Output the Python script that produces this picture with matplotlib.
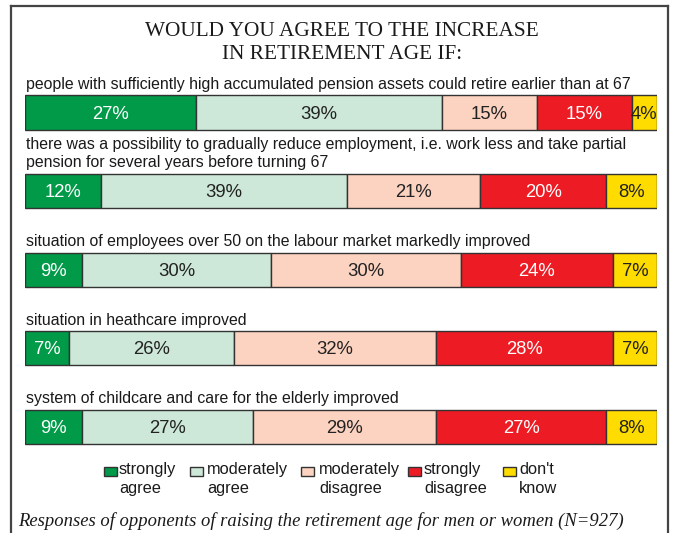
import matplotlib
matplotlib.use("Agg")
import matplotlib.pyplot as plt
from matplotlib.patches import Rectangle
from matplotlib.lines import Line2D
import numpy as np

# Survey questions (one stacked bar per question)
questions = [
    "people with sufficiently high accumulated pension assets could retire earlier than at 67",
    "there was a possibility to gradually reduce employment, i.e. work less and take partial\npension for several years before turning 67",
    "situation of employees over 50 on the labour market markedly improved",
    "situation in heathcare improved",
    "system of childcare and care for the elderly improved",
]

# Response categories (legend labels)
categories = [
    "strongly\nagree",
    "moderately\nagree",
    "moderately\ndisagree",
    "strongly\ndisagree",
    "don't\nknow",
]

# Share of answers, % (one list per category, in question order)
strongly_agree = [27, 12, 9, 7, 9]
moderately_agree = [39, 39, 30, 26, 27]
moderately_disagree = [15, 21, 30, 32, 29]
strongly_disagree = [15, 20, 24, 28, 27]
dont_know = [4, 8, 7, 7, 8]

title = "WOULD YOU AGREE TO THE INCREASE\nIN RETIREMENT AGE IF:"
caption = "Responses of opponents of raising the retirement age for men or women (N=927)"

series = [strongly_agree, moderately_agree, moderately_disagree, strongly_disagree, dont_know]
colors = ["#009a48", "#cde8d8", "#fcd2c0", "#ed1c24", "#ffdc00"]
text_colors = ["white", "#222222", "#222222", "white", "#222222"]

W, H = 674, 533
fig = plt.figure(figsize=(W / 100, H / 100), dpi=100)
fig.patch.set_facecolor("white")

SANS = "Liberation Sans"
SERIF = "Liberation Serif"

# bar area in pixels
x0, x1 = 25, 657
y_top_pix, y_bot_pix = 60, 460
row0_pix, row_step = 112.5, 78.6
ax = fig.add_axes([x0 / W, 1 - y_bot_pix / H, (x1 - x0) / W, (y_bot_pix - y_top_pix) / H])
ax.set_xlim(0, 100)
ax.set_ylim((y_bot_pix - row0_pix) / row_step, (y_top_pix - row0_pix) / row_step)
ax.axis("off")

bar_h = 0.435
rows = np.arange(len(questions))
left = np.zeros(len(questions))
for vals, col, tcol in zip(series, colors, text_colors):
    vals = np.array(vals, dtype=float)
    ax.barh(rows, vals, left=left, height=bar_h, color=col,
            edgecolor="#333333", linewidth=1.0)
    for r, (l, v) in enumerate(zip(left, vals)):
        ax.text(l + v / 2, r + 0.02, f"{v:.0f}%", ha="center", va="center",
                fontsize=13.3, color=tcol, family=SANS)
    left += vals

for r, q in enumerate(questions):
    ax.text(0.1, r - bar_h / 2 - 0.045, q, ha="left", va="bottom",
            fontsize=11.4, family=SANS, color="#1a1a1a", linespacing=1.3)

# title
fig.text(342 / W, 1 - 43 / H, title, ha="center", va="center",
         fontsize=15.3, family=SERIF, color="#1a1a1a", linespacing=1.25)

# legend
sq_x = [104, 190, 301, 408, 503]
txt_x = [119, 207, 319, 424, 519]
for c, sx, tx, lab in zip(colors, sq_x, txt_x, categories):
    fig.patches.append(Rectangle((sx / W, 1 - 476 / H), 13 / W, 9 / H,
                                 transform=fig.transFigure, facecolor=c,
                                 edgecolor="#333333", linewidth=1.0))
    fig.text(tx / W, 1 - 462 / H, lab, ha="left", va="top", fontsize=11.8,
             family=SANS, color="#1a1a1a", linespacing=1.3)

# caption
fig.text(18 / W, 1 - 521 / H, caption, ha="left", va="center", fontsize=13.4,
         family=SERIF, style="italic", color="#1a1a1a")

# outer frame (open at the bottom)
fx0, fx1, fy0 = 11, 668, 6
for xs, ys in [([fx0, fx0], [H + 5, fy0]), ([fx0, fx1], [fy0, fy0]), ([fx1, fx1], [fy0, H + 5])]:
    fig.add_artist(Line2D([x / W for x in xs], [1 - y / H for y in ys],
                          transform=fig.transFigure, color="#444444", linewidth=1.6))

fig.savefig("out.png", dpi=100)
